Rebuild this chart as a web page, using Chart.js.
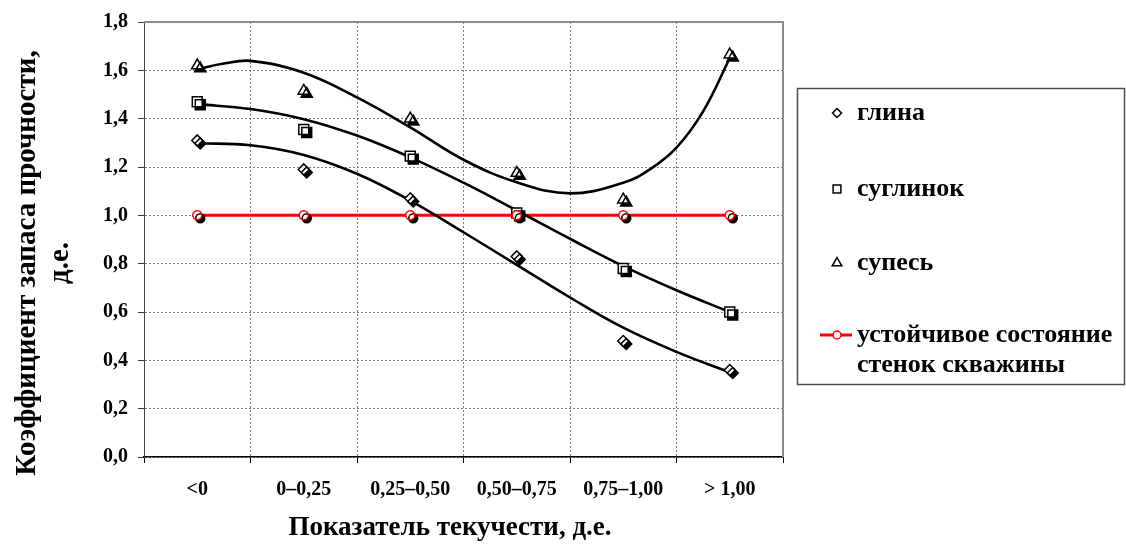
<!DOCTYPE html>
<html><head><meta charset="utf-8">
<script src="https://cdn.jsdelivr.net/npm/chart.js@4.4.1/dist/chart.umd.min.js"></script>
<style>html,body{margin:0;padding:0;background:#fff;overflow:hidden}canvas{display:block}</style>
</head><body>
<canvas id="c" width="1126" height="545"></canvas>
<script>
// ---- data ----
const categories = ['<0', '0–0,25', '0,25–0,50', '0,50–0,75', '0,75–1,00', '> 1,00'];
const glina    = [1.31, 1.19, 1.07, 0.83, 0.48, 0.36];
const suglinok = [1.47, 1.355, 1.245, 1.01, 0.78, 0.60];
const supes    = [1.62, 1.515, 1.40, 1.175, 1.065, 1.665];
const stable   = [1.0, 1.0, 1.0, 1.0, 1.0, 1.0];
const yTickValues = [0, 0.2, 0.4, 0.6, 0.8, 1.0, 1.2, 1.4, 1.6, 1.8];
const yTickLabels = ['0,0', '0,2', '0,4', '0,6', '0,8', '1,0', '1,2', '1,4', '1,6', '1,8'];
// trend curves (x in category index units)
const trendX        = [0, 0.5, 1, 1.5, 2, 2.5, 3, 3.5, 4, 4.5, 5];
const trendGlina    = [1.298, 1.29, 1.25, 1.172, 1.061, 0.93, 0.795, 0.66, 0.535, 0.435, 0.35];
const trendSuglinok = [1.46, 1.44, 1.398, 1.33, 1.24, 1.135, 1.02, 0.903, 0.79, 0.69, 0.60];
const trendSupesX   = [0, 0.25, 0.5, 1, 1.5, 2, 2.5, 3, 3.5, 4, 4.25, 4.5, 4.75, 5];
const trendSupes    = [1.605, 1.628, 1.639, 1.59, 1.488, 1.364, 1.23, 1.137, 1.091, 1.135, 1.19, 1.28, 1.43, 1.65];
const seriesNames = ['глина', 'суглинок', 'супесь', ['устойчивое состояние', 'стенок скважины']];
const xTitle = 'Показатель текучести, д.е.';
const yTitle = ['Коэффициент запаса прочности,', 'д.е.'];

const FONT = "'Liberation Serif', 'DejaVu Serif', serif";
const pts = (xs, ys) => xs.map((x, i) => ({x: x, y: ys[i]}));

const markerBase = {showLine: false, backgroundColor: '#fff', borderColor: '#000', pointBorderWidth: 1.5, shadow: true};
const curveBase = {xAxisID: 'xc', borderColor: '#000', borderWidth: 2.6, pointRadius: 0, tension: 0.4, order: 5};

const datasets = [
  {label: 'stableLine', data: stable, borderColor: '#ff0000', borderWidth: 3, pointRadius: 0, order: 10},
  Object.assign({label: 'trendGlina', data: pts(trendX, trendGlina)}, curveBase),
  Object.assign({label: 'trendSuglinok', data: pts(trendX, trendSuglinok)}, curveBase),
  Object.assign({label: 'trendSupes', data: pts(trendSupesX, trendSupes)}, curveBase),
  Object.assign({label: seriesNames[0], data: glina, pointStyle: 'rectRot', pointRadius: 5.5, order: 2}, markerBase),
  Object.assign({label: seriesNames[1], data: suglinok, pointStyle: 'rect', pointRadius: 7, order: 2}, markerBase),
  Object.assign({label: seriesNames[2], data: supes, pointStyle: 'triangle', pointRadius: 6.5, order: 2}, markerBase),
  {label: 'stablePoints', data: stable, showLine: false, pointStyle: 'circle', pointRadius: 4.5, pointBorderWidth: 1.5,
   backgroundColor: '#fff', borderColor: '#ff0000', shadow: true, order: 1}
];

const shadowPlugin = {
  id: 'markerShadow',
  beforeDatasetDraw(chart, args) {
    if (chart.data.datasets[args.index].shadow) {
      const ctx = chart.ctx;
      ctx.save();
      ctx.shadowColor = '#000';
      ctx.shadowOffsetX = 3;
      ctx.shadowOffsetY = 3;
      ctx.shadowBlur = 0;
    }
  },
  afterDatasetDraw(chart, args) {
    if (chart.data.datasets[args.index].shadow) chart.ctx.restore();
  }
};

const framePlugin = {
  id: 'frame',
  beforeDatasetsDraw(chart) {
    const {ctx, chartArea: a} = chart;
    ctx.save();
    ctx.strokeStyle = '#8c8c8c';
    ctx.lineWidth = 2;
    ctx.beginPath();
    ctx.moveTo(a.left, a.top);
    ctx.lineTo(a.right, a.top);
    ctx.lineTo(a.right, a.bottom);
    ctx.stroke();
    ctx.restore();
  }
};

const titlesPlugin = {
  id: 'axisTitles',
  afterDraw(chart) {
    const ctx = chart.ctx;
    ctx.save();
    ctx.fillStyle = '#000';
    ctx.textAlign = 'center';
    ctx.textBaseline = 'middle';
    ctx.font = "bold 27px " + FONT;
    ctx.fillText(xTitle, 450, 528);
    ctx.font = "bold 29px " + FONT;
    [28, 61].forEach((x, i) => {
      ctx.save();
      ctx.translate(x, 263);
      ctx.rotate(-Math.PI / 2);
      ctx.fillText(yTitle[i], 0, 0);
      ctx.restore();
    });
    ctx.restore();
  }
};

function drawMarker(ctx, style, x, y, r) {
  ctx.beginPath();
  if (style === 'rectRot') {
    ctx.moveTo(x - r, y); ctx.lineTo(x, y - r); ctx.lineTo(x + r, y); ctx.lineTo(x, y + r); ctx.closePath();
  } else if (style === 'rect') {
    const s = r * Math.SQRT1_2; ctx.rect(x - s, y - s, 2 * s, 2 * s);
  } else if (style === 'triangle') {
    ctx.moveTo(x, y - r); ctx.lineTo(x + r * 0.866, y + r * 0.5); ctx.lineTo(x - r * 0.866, y + r * 0.5); ctx.closePath();
  } else {
    ctx.arc(x, y, r, 0, Math.PI * 2);
  }
  ctx.fill(); ctx.stroke();
}

const legendPlugin = {
  id: 'boxLegend',
  afterDraw(chart) {
    const ctx = chart.ctx;
    const ds = chart.data.datasets;
    ctx.save();
    ctx.strokeStyle = '#4d4d4d';
    ctx.lineWidth = 1.5;
    ctx.strokeRect(797.5, 88.5, 327, 296);
    const items = [
      {d: ds[4], y: 113, r: 4.5},
      {d: ds[5], y: 189, r: 5.5},
      {d: ds[6], y: 263, r: 5.5},
      {d: ds[7], y: 335, r: 4, line: ds[0]}
    ];
    ctx.font = "bold 26px " + FONT;
    ctx.textBaseline = 'middle';
    ctx.textAlign = 'left';
    items.forEach((it, i) => {
      const mx = 837;
      if (it.line) {
        ctx.strokeStyle = it.line.borderColor; ctx.lineWidth = 3;
        ctx.beginPath(); ctx.moveTo(820, it.y); ctx.lineTo(852, it.y); ctx.stroke();
      }
      ctx.fillStyle = it.d.backgroundColor; ctx.strokeStyle = it.d.borderColor; ctx.lineWidth = 1.5;
      drawMarker(ctx, it.d.pointStyle, mx, it.y, it.r);
      ctx.fillStyle = '#000';
      const lines = [].concat(seriesNames[i]);
      lines.forEach((t, j) => ctx.fillText(t, 857, it.y + j * 30));
    });
    ctx.restore();
  }
};

new Chart(document.getElementById('c'), {
  type: 'line',
  data: {labels: categories, datasets: datasets},
  plugins: [shadowPlugin, framePlugin, titlesPlugin, legendPlugin],
  options: {
    responsive: false,
    animation: false,
    devicePixelRatio: 1,
    layout: {padding: {left: 0, top: 21, right: 343, bottom: 0}},
    plugins: {legend: {display: false}, tooltip: {enabled: false}},
    scales: {
      x: {
        type: 'category',
        offset: true,
        grid: {offset: true, color: '#7a7a7a', lineWidth: 1, tickColor: '#000', tickLength: 6, tickWidth: 1, tickBorderDash: []},
        border: {display: true, color: '#000', width: 1.5, dash: [2, 2]},
        ticks: {color: '#000', font: {family: FONT, size: 20, weight: 'bold'}, padding: 15, maxRotation: 0, autoSkip: false},
        title: {display: false},
        afterFit: s => { s.height = 88; }
      },
      xc: {type: 'linear', min: -0.5, max: 5.5, display: false},
      y: {
        type: 'linear',
        min: 0, max: 1.8,
        afterBuildTicks: s => { s.ticks = yTickValues.map(v => ({value: v})); },
        grid: {color: '#7a7a7a', lineWidth: 1, tickColor: '#333', tickLength: 6, tickBorderDash: []},
        border: {display: true, color: '#444', width: 1, dash: [2, 2]},
        ticks: {color: '#000', font: {family: FONT, size: 20, weight: 'bold'}, padding: 10,
                callback: (v) => { const i = yTickValues.findIndex(t => Math.abs(t - v) < 1e-6); return i >= 0 ? yTickLabels[i] : ''; }},
        title: {display: false},
        afterFit: s => { s.width = 144; }
      }
    }
  }
});
</script>
</body></html>
